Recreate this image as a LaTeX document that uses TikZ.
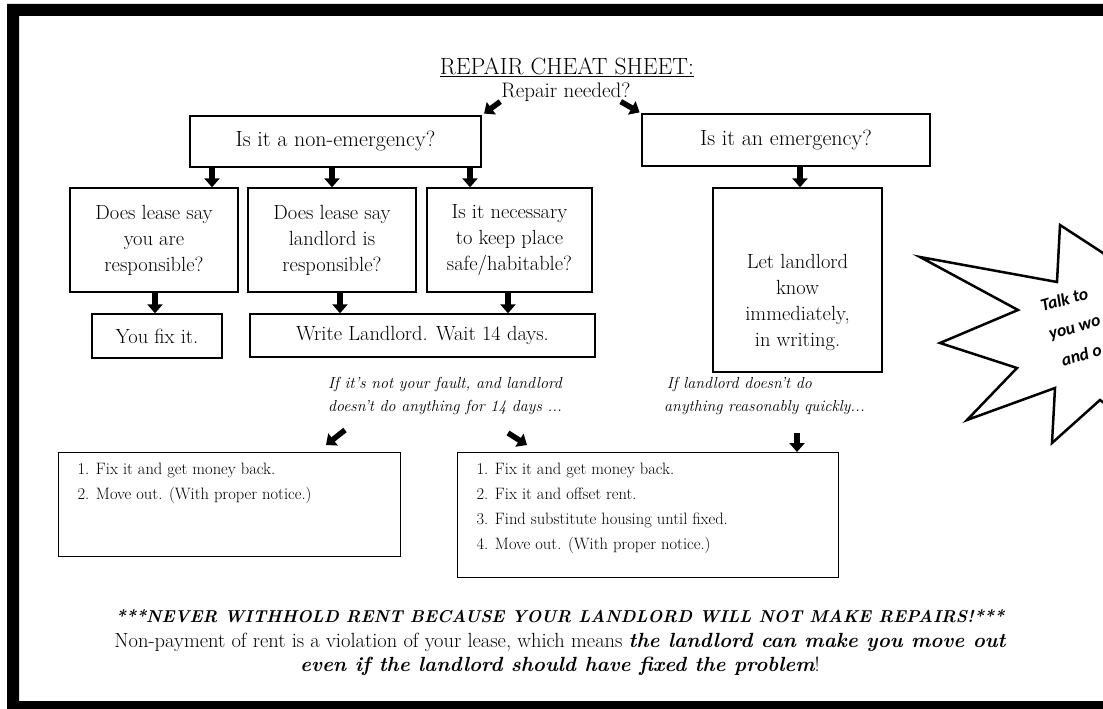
\documentclass[tikz,border=0pt]{standalone}
\usepackage{fontspec}
\newfontfamily\starfont{Carlito}
\usetikzlibrary{arrows.meta,positioning}
\newcommand\boxsize{\fontsize{20.5}{26}\selectfont}
\newcommand\headsize{\fontsize{22}{26}\selectfont}
\newcommand\listsize{\fontsize{16.5}{25}\selectfont}
\newcommand\notesize{\fontsize{16}{23}\selectfont\itshape}
\newcommand\warnsize{\fontsize{20.5}{24.5}\selectfont}
\newcommand\bi[1]{{\bfseries\itshape #1}}

\begin{document}
\begin{tikzpicture}[x=1pt, y=-1pt,
  box/.style={draw, line width=1.3pt, inner sep=0pt, align=center, font=\boxsize},
  qbox/.style={box, minimum width=168pt, minimum height=104pt},
  optbox/.style={draw, line width=1.3pt, anchor=north west, inner xsep=19pt, inner ysep=10pt, font=\listsize},
  note/.style={font=\notesize, inner sep=0pt},
  blk/.style={-{Triangle[width=15pt,length=9pt]}, line width=5.5pt}
]
\useasboundingbox (0,0) rectangle (1103,709);
\clip (0,0) rectangle (1103,709);
% frame
\fill[even odd rule] (7,4) rectangle (1140,730) (19,16) rectangle (1125,701);

% top
\node[font=\fontsize{23.5}{26}\selectfont] (title) at (567,67) {\underline{REPAIR CHEAT SHEET:}};
\node[font=\fontsize{21}{26}\selectfont, inner sep=0pt] (rn) at (566,92) {Repair needed?};

\node[box, font=\headsize, minimum width=291pt, minimum height=51pt] (nonem) at (335.5,141.5) {Is it a non-emergency?};
\node[box, font=\headsize, minimum width=288pt, minimum height=52pt] (emerg) at (786,140) {Is it an emergency?};

\draw[blk, shorten >=3pt] ([xshift=-1pt]rn.south west) -- (nonem.north east);
\draw[blk, shorten >=2pt] ([xshift=-10pt]rn.south east) -- (emerg.north west);

% questions
\node[qbox] (qA) at (154,240) {Does lease say\\you are\\responsible?};
\node[qbox] (qB) at (332,240) {Does lease say\\landlord is\\responsible?};
\node[qbox, minimum width=165pt] (qC) at (509.5,240) {Is it necessary\\to keep place\\safe/habitable?};
\node[box, minimum width=169pt, minimum height=184pt] (qD) at (797.5,280)
  {\rule{0pt}{60pt}Let landlord\\know\\immediately,\\in writing.};

\coordinate (c1) at (212,0);
\coordinate (c2) at (332,0);
\coordinate (c3) at (470,0);
\coordinate (c4) at (800,0);
\draw[blk] (nonem.south -| c1) -- (qA.north -| c1);
\draw[blk] (nonem.south -| c2) -- (qB.north -| c2);
\draw[blk] (nonem.south -| c3) -- (qC.north -| c3);
\draw[blk] (emerg.south -| c4) -- (qD.north -| c4);

% answers
\node[box, minimum width=130pt, minimum height=44pt] (fix) at (157,336) {You fix it.};
\node[box, minimum width=345pt, minimum height=43pt] (write) at (422.5,335.5) {Write Landlord. Wait 14 days.};

\coordinate (c5) at (155,0);
\coordinate (c6) at (340,0);
\coordinate (c7) at (508,0);
\draw[blk] (qA.south -| c5) -- (fix.north -| c5);
\draw[blk] (qB.south -| c6) -- (write.north -| c6);
\draw[blk] (qC.south -| c7) -- (write.north -| c7);

% what next
\node[note, align=center] (lblA) at (445,396) {If it’s not your fault, and landlord\\doesn’t do anything for 14 days ...};
\node[note, align=left, anchor=west] (lblB) at (664,396) {\,If landlord doesn’t do\\anything reasonably quickly...};

\node[optbox] (optL) at (58,452) {\parbox[t][84pt][t]{304pt}{1. Fix it and get money back.\\2. Move out. (With proper notice.)}};
\node[optbox] (optR) at (457,452) {\parbox[t][105pt][t]{343pt}{1. Fix it and get money back.\\2. Fix it and offset rent.\\3. Find substitute housing until fixed.\\4. Move out. (With proper notice.)}};

\coordinate (dA1) at (345,430);
\coordinate (dA2) at (326,445);
\coordinate (dB1) at (508,433);
\coordinate (dB2) at (527,445);
\coordinate (dC1) at (797,433);
\draw[blk] (dA1) -- (dA2);
\draw[blk] (dB1) -- (dB2);
\draw[blk] (dC1) -- (optR.north -| dC1);

% star
\draw[line width=2.5pt, line join=miter, fill=white] (1060,225) -- (1057,282) -- (920,257) -- (1018,310)
  -- (940,343) -- (1017,368) -- (967,420) -- (1055,388) -- (1052,443) -- (1100,400)
  -- (1140,430) -- (1150,300) -- (1103,253) -- cycle;
\node[font=\starfont\bfseries\itshape\fontsize{17.5}{29}\selectfont, align=left, anchor=north west,
  rotate=16, inner sep=0pt] (talk) at (1039,300) {Talk to\\you wo\\\hspace{5pt}and o};

% warning
\node[align=center, font=\warnsize] (warn) at (560,643)
  {\bi{\fontsize{17.2}{24.5}\selectfont ***NEVER WITHHOLD RENT BECAUSE YOUR LANDLORD WILL NOT MAKE REPAIRS!***}\\
   Non-payment of rent is a violation of your lease, which means \bi{the landlord can make you move out}\\
   \bi{even if the landlord should have fixed the problem}!};
\end{tikzpicture}
\end{document}
